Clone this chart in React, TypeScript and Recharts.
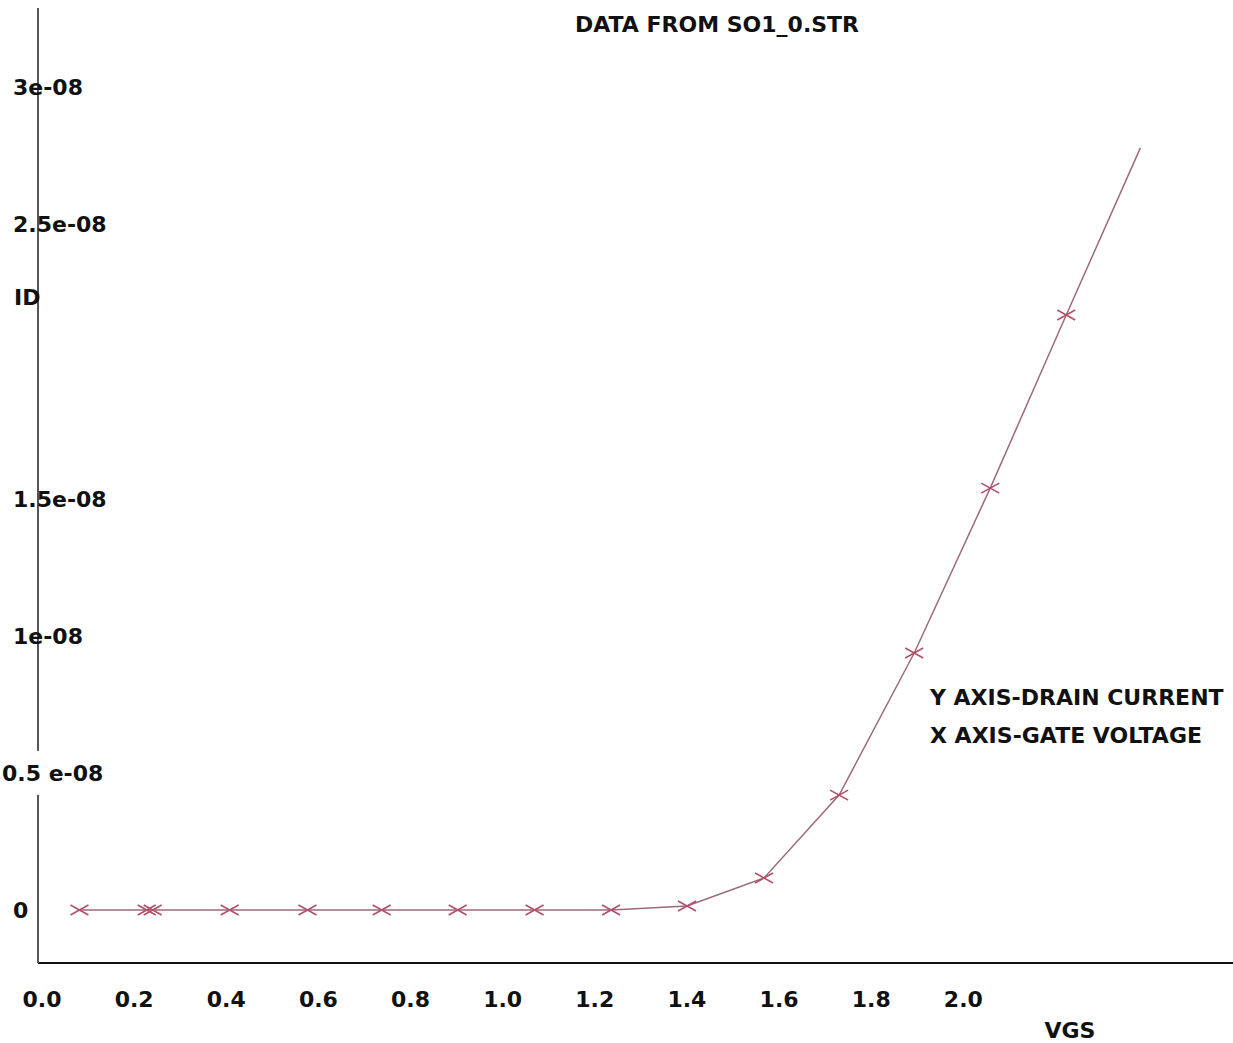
import { LineChart, Line, XAxis, YAxis } from 'recharts'

// VGS sweep (V) and drain current ID (A)
const vgs = [0.09, 0.236, 0.249, 0.416, 0.585, 0.746, 0.911, 1.078, 1.244, 1.409, 1.576, 1.739, 1.902, 2.067, 2.232, 2.393]
const drainCurrent = [0, 0, 0, 0, 0, 0, 0, 0, 0, 0.015e-8, 0.117e-8, 0.419e-8, 0.937e-8, 1.538e-8, 2.169e-8, 2.778e-8]

const xTicks = [0, 0.2, 0.4, 0.6, 0.8, 1.0, 1.2, 1.4, 1.6, 1.8, 2.0]
const xTickLabels = ['0.0', '0.2', '0.4', '0.6', '0.8', '1.0', '1.2', '1.4', '1.6', '1.8', '2.0']
const yTicks = [0, 0.5e-8, 1e-8, 1.5e-8, 2.5e-8, 3e-8]
const yTickLabels = ['0', '0.5 e-08', '1e-08', '1.5e-08', '2.5e-08', '3e-08']

const data = vgs.map((v, i) => ({ vgs: v, id: drainCurrent[i] }))

const FONT = '"DejaVu Sans", sans-serif'
const W = 1233
const H = 1043

function XTick(props: any) {
  const { x, y, index } = props
  return (
    <text x={x + 4} y={y + 42} textAnchor="middle" fontFamily={FONT} fontWeight={700} fontSize={22} fill="#111">
      {xTickLabels[index]}
    </text>
  )
}

function YTick(props: any) {
  const { x, y, index } = props
  const label = yTickLabels[index]
  const boxed = label.indexOf(' ') >= 0
  return (
    <g>
      {boxed && <rect x={x - 6} y={y - 22} width={12} height={44} fill="#fff" />}
      <text x={boxed ? x - 34 : x - 23} y={y + 8} textAnchor="start" fontFamily={FONT} fontWeight={700} fontSize={22} fill="#111">
        {label}
      </text>
    </g>
  )
}

function Cross(props: any) {
  const { cx, cy, index } = props
  if (index === data.length - 1) return <g key={`d${index}`} />
  return (
    <path
      key={`d${index}`}
      d={`M${cx - 9},${cy - 5}L${cx + 9},${cy + 5}M${cx - 9},${cy + 5}L${cx + 9},${cy - 5}`}
      stroke="#b0506a"
      strokeWidth={1.6}
      fill="none"
    />
  )
}

export default function App() {
  return (
    <div style={{ position: 'absolute', left: 0, top: 0, width: W, height: H, background: '#fff' }}>
      <LineChart width={W} height={H} data={data} margin={{ top: 8, right: 0, bottom: 0, left: 0 }}>
        <XAxis
          dataKey="vgs"
          type="number"
          domain={[0, 2.594]}
          ticks={xTicks}
          height={80}
          axisLine={{ stroke: '#111', strokeWidth: 2 }}
          tickLine={false}
          tickSize={0}
          tick={<XTick />}
          interval={0}
        />
        <YAxis
          dataKey="id"
          type="number"
          domain={[-0.193e-8, 3.288e-8]}
          ticks={yTicks}
          width={38}
          axisLine={{ stroke: '#555', strokeWidth: 2 }}
          tickLine={false}
          tickSize={0}
          tick={<YTick />}
          interval={0}
        />
        <Line
          dataKey="id"
          stroke="#9c6a78"
          strokeWidth={1.5}
          dot={Cross}
          activeDot={false}
          isAnimationActive={false}
        />
      </LineChart>
      <svg width={W} height={H} style={{ position: 'absolute', left: 0, top: 0, pointerEvents: 'none' }}>
        <g fontFamily={FONT} fontWeight={700} fontSize={22} fill="#111">
          <text x={717} y={32} textAnchor="middle">DATA FROM SO1_0.STR</text>
          <text x={14} y={305}>ID</text>
          <text x={930} y={705}>Y AXIS-DRAIN CURRENT</text>
          <text x={930} y={743}>X AXIS-GATE VOLTAGE</text>
          <text x={1070} y={1038} textAnchor="middle">VGS</text>
        </g>
      </svg>
    </div>
  )
}
